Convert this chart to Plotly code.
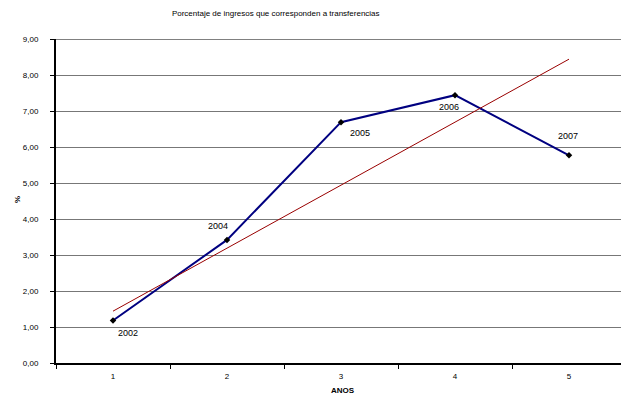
import plotly.graph_objects as go

categories = [1, 2, 3, 4, 5]
point_labels = ["2002", "2004", "2005", "2006", "2007"]
values = [1.18, 3.42, 6.69, 7.44, 5.77]
trend_x = [1, 5]
trend_y = [1.44, 8.44]
y_ticks = [0, 1, 2, 3, 4, 5, 6, 7, 8, 9]

FONT = "Liberation Sans, Arial, sans-serif"

fig = go.Figure()
fig.add_trace(go.Scatter(
    x=categories, y=values, mode="lines+markers",
    line=dict(color="#000080", width=2),
    marker=dict(symbol="diamond", size=5, color="#000000"),
    showlegend=False, hoverinfo="skip",
))
fig.add_trace(go.Scatter(
    x=trend_x, y=trend_y, mode="lines",
    line=dict(color="#990000", width=1),
    showlegend=False, hoverinfo="skip",
))

shifts = [(15, -12), (-9, 14), (19, -11), (-6, -12), (-1, 19)]
for xv, yv, lab, (dx, dy) in zip(categories, values, point_labels, shifts):
    fig.add_annotation(x=xv, y=yv, text=lab, showarrow=False,
                       xshift=dx, yshift=dy,
                       font=dict(family=FONT, size=9, color="#000000"))

# axis titles
fig.add_annotation(xref="paper", yref="paper", x=-0.069, y=0.503, text="<b>%</b>",
                   showarrow=False, textangle=-90, xanchor="center", yanchor="middle",
                   font=dict(family=FONT, size=8, color="#000000"))
fig.add_annotation(xref="paper", yref="paper", x=0.508, y=-0.0864, text="<b>ANOS</b>",
                   showarrow=False, xanchor="center", yanchor="middle",
                   font=dict(family=FONT, size=8, color="#000000"))

fig.update_layout(
    width=621, height=400,
    margin=dict(l=56, r=0, t=39, b=37),
    paper_bgcolor="white", plot_bgcolor="white",
    separators=",.",
    title=dict(text="Porcentaje de ingresos que corresponden a transferencias",
               x=0.444, xanchor="center", y=0.9675, yanchor="middle",
               font=dict(family=FONT, size=8, color="#000000")),
    font=dict(family=FONT, size=8, color="#000000"),
)
fig.update_xaxes(
    range=[0.5, 5.456],
    tickmode="array", tickvals=categories, ticktext=[str(c) for c in categories],
    ticks="", showgrid=False, ticklabelstandoff=4,
    showline=True, linecolor="#000000", linewidth=2,
    tickfont=dict(family=FONT, size=8, color="#000000"),
    minor=dict(ticks="outside", ticklen=4, tickcolor="#000000", tick0=0.5, dtick=1, showgrid=False),
    zeroline=False, fixedrange=True,
)
fig.update_yaxes(
    range=[0, 9],
    tickmode="array", tickvals=y_ticks, tickformat=".2f",
    ticks="outside", ticklen=4, tickcolor="#000000", ticklabelstandoff=10,
    showgrid=True, gridcolor="#777777", gridwidth=1,
    showline=True, linecolor="#000000", linewidth=2,
    tickfont=dict(family=FONT, size=8, color="#000000"),
    zeroline=False, fixedrange=True,
)
fig.add_shape(type="line", xref="paper", yref="y", x0=0, x1=1, y0=9, y1=9,
              line=dict(color="#808080", width=2))

fig.write_html(
    "out.html",
    config={"displayModeBar": False, "staticPlot": True},
    post_script=(
        "document.documentElement.style.overflow='hidden';"
        "document.body.style.margin='0';document.body.style.overflow='hidden';"
    ),
)
